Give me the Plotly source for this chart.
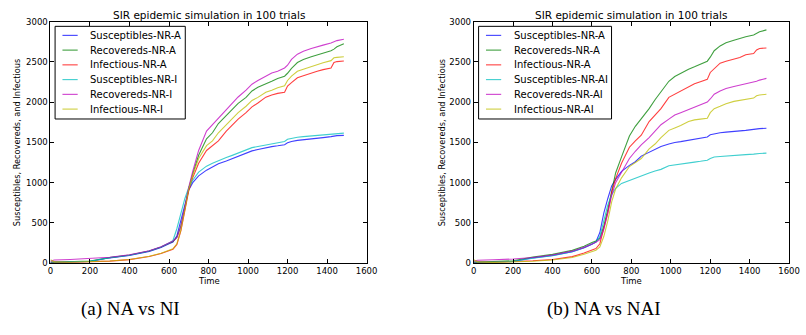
import plotly.graph_objects as go

# Time grid (simulation steps) shared by every curve
time = [0, 20, 100, 200, 300, 400, 500, 560, 600, 620, 640, 660, 680, 700, 720,
        750, 790, 820, 850, 890, 920, 950, 990, 1020, 1050, 1090, 1120, 1150,
        1185, 1200, 1220, 1250, 1280, 1320, 1350, 1380, 1420, 1435, 1450, 1485]

# (a) NA vs NI
a_sus_na = [8, 10, 12, 20, 65, 95, 145, 195, 240, 262, 340, 530, 740, 910, 1000,
            1085, 1155, 1195, 1235, 1270, 1299, 1330, 1365, 1395, 1412, 1435, 1448, 1458,
            1472, 1495, 1512, 1525, 1535, 1545, 1552, 1560, 1572, 1580, 1584, 1588]
a_rec_na = [10, 12, 15, 25, 68, 100, 150, 200, 245, 268, 320, 460, 680, 930, 1110,
            1340, 1545, 1620, 1735, 1840, 1914, 1985, 2060, 2140, 2185, 2224, 2260, 2295,
            2324, 2360, 2420, 2493, 2530, 2565, 2585, 2605, 2640, 2660, 2690, 2726]
a_inf_na = [10, 12, 10, 13, 24, 43, 82, 118, 155, 172, 232, 400, 650, 900, 1060,
            1240, 1400, 1459, 1520, 1640, 1721, 1790, 1870, 1942, 1990, 2063, 2090, 2110,
            2123, 2200, 2244, 2304, 2330, 2364, 2385, 2405, 2425, 2493, 2505, 2513]
a_sus_ni = [10, 12, 14, 22, 68, 98, 150, 200, 248, 280, 430, 630, 800, 940, 1030,
            1130, 1205, 1240, 1275, 1312, 1339, 1370, 1405, 1435, 1450, 1470, 1482, 1492,
            1512, 1540, 1552, 1565, 1572, 1580, 1585, 1590, 1602, 1607, 1610, 1616]
a_rec_ni = [25, 38, 45, 55, 72, 104, 152, 202, 248, 275, 315, 455, 690, 945, 1140,
            1400, 1640, 1720, 1810, 1914, 1994, 2065, 2150, 2224, 2270, 2324, 2364, 2384,
            2425, 2460, 2533, 2597, 2635, 2668, 2685, 2710, 2735, 2750, 2766, 2782]
a_inf_ni = [40, 15, 10, 14, 25, 45, 85, 122, 158, 178, 240, 410, 660, 920, 1090,
            1300, 1460, 1520, 1620, 1720, 1801, 1870, 1950, 2022, 2060, 2123, 2150, 2180,
            2203, 2270, 2324, 2384, 2410, 2445, 2470, 2490, 2517, 2553, 2558, 2565]

# (b) NA vs NAI
b_sus_na = [8, 10, 12, 20, 65, 95, 140, 190, 235, 262, 380, 620, 800, 960, 1040,
            1140, 1215, 1260, 1330, 1380, 1420, 1450, 1480, 1500, 1510, 1530, 1545, 1555,
            1568, 1595, 1608, 1620, 1628, 1635, 1645, 1650, 1662, 1668, 1672, 1677]
b_rec_na = [10, 12, 15, 28, 75, 108, 158, 210, 255, 275, 310, 460, 660, 900, 1120,
            1320, 1580, 1700, 1790, 1920, 2030, 2130, 2260, 2320, 2360, 2410, 2440, 2470,
            2510, 2560, 2640, 2700, 2740, 2770, 2794, 2815, 2835, 2855, 2875, 2899]
b_inf_na = [10, 12, 10, 15, 28, 45, 80, 125, 165, 180, 240, 420, 620, 880, 1050,
            1240, 1440, 1520, 1590, 1760, 1841, 1920, 2060, 2100, 2140, 2200, 2230, 2255,
            2284, 2370, 2420, 2485, 2510, 2540, 2555, 2590, 2605, 2650, 2668, 2674]
b_sus_nai = [10, 12, 14, 20, 60, 90, 140, 190, 235, 262, 330, 520, 720, 850, 930,
             990, 1030, 1050, 1080, 1120, 1145, 1165, 1210, 1222, 1235, 1245, 1255, 1265,
             1279, 1300, 1319, 1325, 1332, 1338, 1342, 1348, 1355, 1360, 1363, 1367]
b_rec_nai = [25, 35, 42, 50, 70, 100, 148, 195, 238, 258, 290, 420, 620, 840, 1000,
             1130, 1300, 1390, 1470, 1560, 1640, 1720, 1790, 1840, 1870, 1910, 1940, 1970,
             2002, 2040, 2100, 2140, 2170, 2195, 2210, 2225, 2250, 2260, 2275, 2296]
b_inf_nai = [40, 15, 8, 12, 22, 38, 70, 110, 145, 160, 200, 330, 520, 760, 920,
             1060, 1200, 1255, 1300, 1420, 1480, 1560, 1650, 1680, 1710, 1760, 1780, 1790,
             1801, 1870, 1920, 1950, 1982, 2010, 2022, 2040, 2051, 2080, 2090, 2099]

colors = ["#0000ff", "#008000", "#ff0000", "#00bfbf", "#bf00bf", "#bfbf00"]
line_alpha = 0.75

panels = [
    {
        "axes": ("x", "y"),
        "names": ["Susceptibles-NR-A", "Recovereds-NR-A", "Infectious-NR-A",
                  "Susceptibles-NR-I", "Recovereds-NR-I", "Infectious-NR-I"],
        "series": [a_sus_na, a_rec_na, a_inf_na, a_sus_ni, a_rec_ni, a_inf_ni],
        "box": (48.3, 370.0, 17.3, 266.0),      # left, right, top, bottom (px)
        "legend_box": (53.0, 185.5, 22.0, 117.5),
        "ytitle_x": 15.0,
        "caption": "(a) NA vs NI", "caption_x": 130.0,
    },
    {
        "axes": ("x2", "y2"),
        "names": ["Susceptibles-NR-A", "Recovereds-NR-A", "Infectious-NR-A",
                  "Susceptibles-NR-AI", "Recovereds-NR-AI", "Infectious-NR-AI"],
        "series": [b_sus_na, b_rec_na, b_inf_na, b_sus_nai, b_rec_nai, b_inf_nai],
        "box": (479.0, 800.0, 17.3, 266.0),
        "legend_box": (484.0, 619.3, 22.0, 117.5),
        "ytitle_x": 446.7,
        "caption": "(b) NA vs NAI", "caption_x": 611.0,
    },
]

W, H = 806, 335


def px_x(v):
    return v / W


def px_y(v):
    return 1 - v / H


fig = go.Figure()
for p in panels:
    for name, vals, col in zip(p["names"], p["series"], colors):
        fig.add_trace(go.Scatter(
            x=time, y=vals, mode="lines", name=name, showlegend=False,
            line=dict(color=col, width=1.1), opacity=line_alpha,
            xaxis=p["axes"][0], yaxis=p["axes"][1],
        ))

tick_font = dict(family="DejaVu Sans", size=8.5, color="#000000")
axis_common = dict(
    showline=True, linecolor="#000000", linewidth=1, mirror="ticks",
    ticks="inside", ticklen=4, tickwidth=1, tickcolor="#000000",
    showgrid=False, zeroline=False, tickfont=tick_font,
)

layout = dict(
    width=W, height=H, margin=dict(l=0, r=0, t=0, b=0),
    paper_bgcolor="white", plot_bgcolor="white", showlegend=False,
)
for i, p in enumerate(panels):
    l, r, t, b = p["box"]
    sfx = "" if i == 0 else str(i + 1)
    layout["xaxis" + sfx] = dict(axis_common, domain=[l / W, r / W], range=[0, 1600],
                                 dtick=200, tick0=0, anchor="y" + sfx)
    layout["yaxis" + sfx] = dict(axis_common, domain=[1 - b / H, 1 - t / H], range=[0, 3000],
                                 dtick=500, tick0=0, anchor="x" + sfx)
fig.update_layout(**layout)

anns, shapes = [], []
sans = "DejaVu Sans"
for p in panels:
    l, r, t, b = p["box"]
    cx = (l + r) / 2
    anns.append(dict(text="SIR epidemic simulation in 100 trials", x=px_x(cx), y=px_y(10),
                     xref="paper", yref="paper", showarrow=False, xanchor="center",
                     yanchor="middle", font=dict(family=sans, size=10.5, color="#000000")))
    anns.append(dict(text="Time", x=px_x(cx), y=px_y(285), xref="paper", yref="paper",
                     showarrow=False, xanchor="center", yanchor="middle",
                     font=dict(family=sans, size=8.5, color="#000000")))
    anns.append(dict(text="Susceptibles, Recovereds, and Infectious", x=px_x(p["ytitle_x"]),
                     y=px_y((t + b) / 2), xref="paper", yref="paper", showarrow=False,
                     textangle=-90, xanchor="center", yanchor="middle",
                     font=dict(family=sans, size=8.2, color="#000000")))
    anns.append(dict(text=p["caption"], x=px_x(p["caption_x"]), y=px_y(313),
                     xref="paper", yref="paper", showarrow=False, xanchor="center",
                     yanchor="middle",
                     font=dict(family="Liberation Serif", size=19, color="#000000")))

    # boxed legend in the upper-left corner of the panel
    ll, lr, lt, lb = p["legend_box"]
    shapes.append(dict(type="rect", xref="paper", yref="paper",
                       x0=px_x(ll), x1=px_x(lr), y0=px_y(lb), y1=px_y(lt),
                       line=dict(color="#000000", width=1), fillcolor="white", layer="above"))
    for k, (name, col) in enumerate(zip(p["names"], colors)):
        ey = lt + 9.3 + k * 15.2
        shapes.append(dict(type="line", xref="paper", yref="paper",
                           x0=px_x(ll + 7.5), x1=px_x(ll + 23), y0=px_y(ey), y1=px_y(ey),
                           line=dict(color=col, width=1.1), opacity=line_alpha, layer="above"))
        anns.append(dict(text=name, x=px_x(ll + 33.5), y=px_y(ey), xref="paper", yref="paper",
                         showarrow=False, xanchor="left", yanchor="middle",
                         font=dict(family=sans, size=10, color="#000000")))

fig.update_layout(annotations=anns, shapes=shapes)

fig.write_html("out.html")
